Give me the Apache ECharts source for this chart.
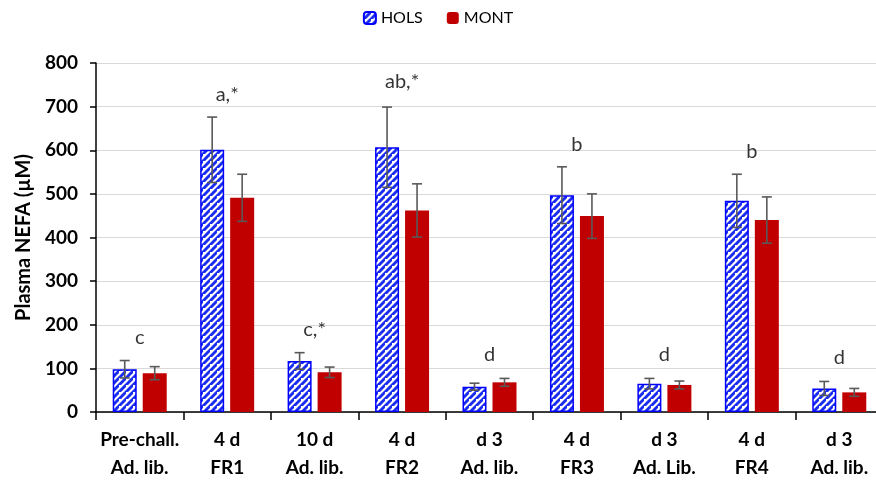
<!DOCTYPE html>
<html>
<head>
<meta charset="utf-8">
<script src="https://cdn.jsdelivr.net/npm/echarts@6/dist/echarts.min.js"></script>
<style>
html,body{margin:0;padding:0;background:#fff;}
#main{width:876px;height:480px;}
</style>
</head>
<body>
<div id="main"></div>
<script>
// data
var categories = ['Pre-chall.\nAd. lib.', '4 d\nFR1', '10 d\nAd. lib.', '4 d\nFR2', 'd 3\nAd. lib.', '4 d\nFR3', 'd 3\nAd. Lib.', '4 d\nFR4', 'd 3\nAd. lib.'];
var holsMean = [98, 601, 117, 607, 58, 497, 65, 484, 54];
var holsErr = [20, 75, 19, 92, 8, 65, 12, 61, 16];
var montMean = [89, 491, 91, 462, 68, 449, 62, 440, 45];
var montErr = [15, 54, 12, 61, 9, 51, 9, 53, 9];
var letters = ['c', 'a,*', 'c,*', 'ab,*', 'd', 'b', 'd', 'b', 'd'];
var letterPos = [170, 727, 188, 757, 131, 612, 131, 596, 124];

// hatch pattern for HOLS
function makeHatch(){
	var c = document.createElement('canvas');
	var s = 7;
	c.width = s; c.height = s;
	var ctx = c.getContext('2d');
	ctx.fillStyle = '#ffffff';
	ctx.fillRect(0, 0, s, s);
	ctx.strokeStyle = '#1a2cf0';
	ctx.lineWidth = 2.9;
	[0, s, 2 * s].forEach(function(k){
		ctx.beginPath();
		ctx.moveTo(k, 0);
		ctx.lineTo(0, k);
		ctx.stroke();
	});
	return c;
}

var chart = echarts.init(document.getElementById('main'));

function errData(mean, err){
	var out = [];
	for(var i = 0; i < mean.length; i++){
		out.push([i, mean[i] - err[i], mean[i] + err[i]]);
	}
	return out;
}

function errSeries(name, mean, err, offset){
	return {
		type: 'custom',
		name: name + ' err',
		silent: true,
		z: 5,
		data: errData(mean, err),
		renderItem: function(params, api){
			var lo = api.coord([api.value(0), api.value(1)]);
			var hi = api.coord([api.value(0), api.value(2)]);
			var x = lo[0] + offset;
			var cap = 5;
			var st = {stroke: '#595959', lineWidth: 1.6};
			return {
				type: 'group',
				children: [
					{type: 'line', shape: {x1: x, y1: lo[1], x2: x, y2: hi[1]}, style: st},
					{type: 'line', shape: {x1: x - cap, y1: hi[1], x2: x + cap, y2: hi[1]}, style: st},
					{type: 'line', shape: {x1: x - cap, y1: lo[1], x2: x + cap, y2: lo[1]}, style: st}
				]
			};
		}
	};
}

var letterData = [];
for(var i = 0; i < letters.length; i++){
	letterData.push([i, letterPos[i]]);
}

var option = {
	animation: false,
	textStyle: {fontFamily: 'Lato'},
	legend: {
		data: ['HOLS', 'MONT'],
		top: 5,
		left: 'center',
		itemWidth: 12,
		itemHeight: 12,
		itemGap: 24,
		textStyle: {fontSize: 16, color: '#000', fontFamily: 'Lato'}
	},
	grid: {
		left: 96,
		right: -7,
		top: 63,
		bottom: 68,
		outerBoundsMode: 'none'
	},
	xAxis: {
		type: 'category',
		data: categories,
		axisLine: {lineStyle: {color: '#000', width: 1.5}},
		axisTick: {show: true, length: 8, lineStyle: {color: '#000', width: 1.5}},
		axisLabel: {
			fontSize: 19,
			fontWeight: 'bold',
			color: '#000',
			lineHeight: 28,
			margin: 14,
			interval: 0
		}
	},
	yAxis: {
		type: 'value',
		min: 0,
		max: 800,
		interval: 100,
		name: 'Plasma NEFA (µM)',
		nameLocation: 'middle',
		nameGap: 62,
		nameTextStyle: {fontSize: 20, fontWeight: 700, fontFamily: 'Lato', color: '#000'},
		axisLine: {show: true, lineStyle: {color: '#000', width: 1.5}},
		axisTick: {show: true, length: 6, lineStyle: {color: '#000', width: 1.5}},
		axisLabel: {fontSize: 19, fontWeight: 'bold', color: '#000', margin: 18},
		splitLine: {lineStyle: {color: '#d9d9d9', width: 1.2}}
	},
	series: [
		{
			name: 'HOLS',
			type: 'bar',
			data: holsMean,
			barWidth: 24,
			barGap: '25%',
			itemStyle: {
				color: {image: makeHatch(), repeat: 'repeat'},
				borderColor: '#0000ff',
				borderWidth: 1.5
			}
		},
		{
			name: 'MONT',
			type: 'bar',
			data: montMean,
			barWidth: 24,
			itemStyle: {color: '#c00000'}
		},
		errSeries('HOLS', holsMean, holsErr, -15),
		errSeries('MONT', montMean, montErr, 15),
		{
			type: 'scatter',
			name: 'letters',
			silent: true,
			symbolSize: 0,
			data: letterData,
			label: {
				show: true,
				position: 'inside',
				fontSize: 20,
				color: '#000',
				formatter: function(p){ return letters[p.dataIndex]; }
			}
		}
	]
};
chart.setOption(option);
</script>
</body>
</html>
